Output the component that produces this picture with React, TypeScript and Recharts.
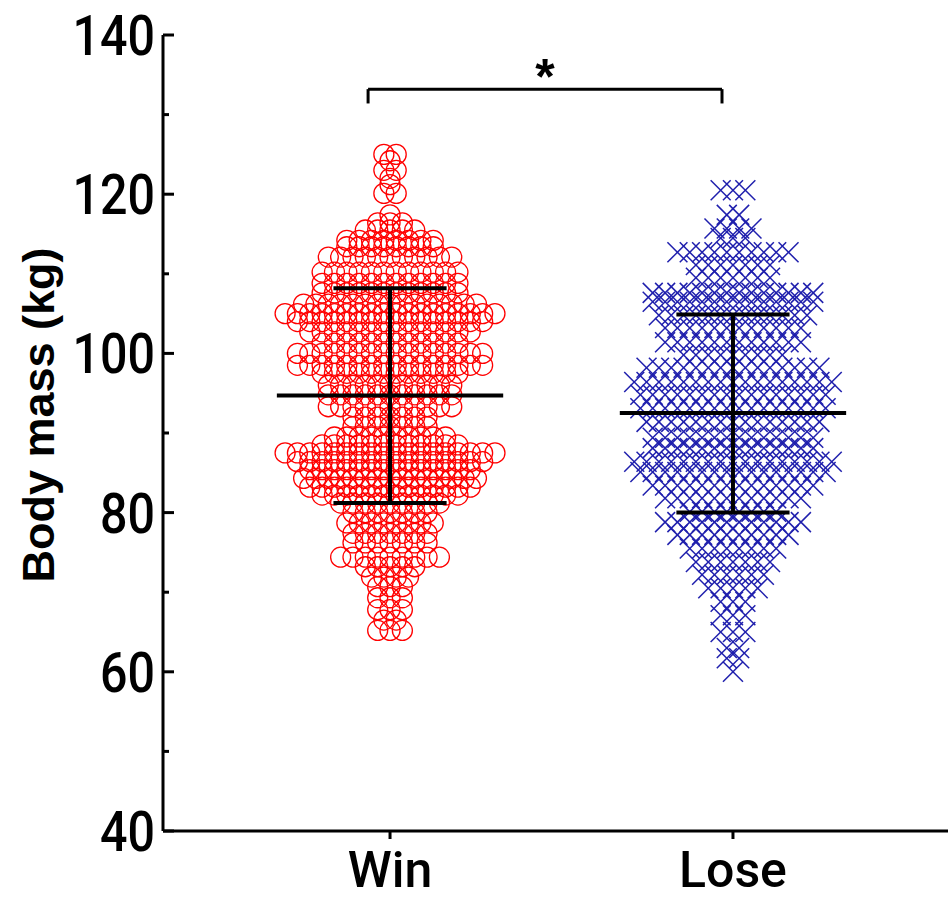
import React from 'react';
import {
  ScatterChart,
  Scatter,
  XAxis,
  YAxis,
  ReferenceLine,
  ReferenceDot,
} from 'recharts';

const groups = ['Win', 'Lose'];

// rows of the dot plot: body mass (kg) and how many athletes sit on that row
const winLevels = [
  125, 124.2, 123, 122, 121.2, 120.1, 117.4, 116.4, 115.5, 114.2, 113.4, 112.1,
  110.2, 108.8, 107.6, 106.2, 105, 104, 102.7, 101.3, 100, 98.5, 97.5, 96, 94.8,
  93.3, 92, 90.8, 89.5, 88.5, 87.5, 86.4, 85.4, 84.3, 83.2, 82.2, 81.2, 80, 78.7,
  77.4, 76.2, 74.4, 73.2, 71.9, 70.7, 69.3, 67.8, 66.5, 65.2,
];
const winCounts = [
  2, 1, 2, 1, 1, 2, 1, 3, 5, 8, 8, 11,
  12, 12, 12, 15, 18, 16, 14, 12, 16, 16, 12, 11, 11,
  11, 7, 7, 10, 12, 18, 16, 14, 15, 14, 12, 9, 7, 8,
  7, 7, 9, 5, 4, 3, 3, 3, 2, 3,
];
const loseLevels = [
  120.5, 117.4, 115.7, 114.5, 112.7, 111.1, 109.5, 107.6, 106.5, 104.8, 103.2,
  101.4, 99.8, 98.2, 96.4, 94.8, 93.1, 91.4, 89.4, 88.1, 86.4, 85.1, 83.4, 81.8,
  80.1, 78.8, 77.2, 75.5, 73.8, 72.2, 70.5, 68.8, 67.1, 65, 63, 61.7, 60,
];
const loseCounts = [
  3, 2, 4, 3, 10, 7, 7, 14, 14, 13, 12,
  12, 9, 15, 17, 16, 16, 15, 14, 14, 17, 16, 14, 12,
  8, 12, 10, 8, 7, 6, 5, 3, 3, 3, 2, 2, 1,
];

const means = [94.7, 92.5];
const sdHigh = [108.2, 104.9];
const sdLow = [81.2, 80.0];

const yTicks = [40, 50, 60, 70, 80, 90, 100, 110, 120, 130, 140];
const bracketTop = 133.2;
const bracketFoot = 131.4;
const bracketEnds = [0.936, 1.968];

const STEP = 0.036; // horizontal gap between neighbours on a row (x units)
const MEAN_HALF = 0.33;
const CAP_HALF = 0.165;

const spread = (levels: number[], counts: number[], center: number) =>
  levels.flatMap((v, i) => {
    const n = counts[i];
    return Array.from({ length: n }, (_, k) => ({
      x: center + (k - (n - 1) / 2) * STEP,
      y: v,
    }));
  });

const winData = spread(winLevels, winCounts, 1);
const loseData = spread(loseLevels, loseCounts, 2);

// mean line, SD whisker and its two caps for each group (drawn above the dots)
const barSegments = groups.flatMap((_, i) => {
  const c = i + 1;
  return [
    [{ x: c - MEAN_HALF, y: means[i] }, { x: c + MEAN_HALF, y: means[i] }],
    [{ x: c, y: sdLow[i] }, { x: c, y: sdHigh[i] }],
    [{ x: c - CAP_HALF, y: sdHigh[i] }, { x: c + CAP_HALF, y: sdHigh[i] }],
    [{ x: c - CAP_HALF, y: sdLow[i] }, { x: c + CAP_HALF, y: sdLow[i] }],
  ];
});

const tickFont = 'Roboto, "Noto Sans", sans-serif';
const labelFont = '"Liberation Sans", Arial, sans-serif';

const YTick = ({ x, y, payload }: any) => {
  const major = payload.value % 20 === 0;
  const txt = String(payload.value);
  return (
    <g>
      <line x1={x} x2={x + (major ? 11 : 6)} y1={y} y2={y} stroke="#000" strokeWidth={3} />
      {major && (
        <text
          x={x - 8}
          y={y}
          dy={20}
          textAnchor="end"
          fontSize={56}
          fontWeight={500}
          fontFamily={tickFont}
          textLength={txt.length * 27.5}
          lengthAdjust="spacingAndGlyphs"
          fill="#000"
        >
          {txt}
        </text>
      )}
    </g>
  );
};

const XTick = ({ x, y, payload }: any) => (
  <text x={x} y={y} dy={46} textAnchor="middle" fontSize={50} fontWeight={500} fontFamily={tickFont} fill="#000">
    {groups[payload.value - 1]}
  </text>
);

const YLabel = ({ viewBox }: any) => {
  const cx = 38;
  const cy = viewBox.y + viewBox.height / 2 - 18;
  return (
    <text
      x={cx}
      y={cy}
      transform={`rotate(-90 ${cx} ${cy})`}
      textAnchor="middle"
      dominantBaseline="central"
      fontSize={45}
      fontWeight="bold"
      fontFamily={labelFont}
      fill="#000"
    >
      Body mass (kg)
    </text>
  );
};

const Ring = ({ cx, cy }: any) => (
  <circle cx={cx} cy={cy} r={10} fill="none" stroke="#ff0000" strokeWidth={1.3} />
);

const Cross = ({ cx, cy }: any) => (
  <g stroke="#1f1fad" strokeWidth={1.5}>
    <line x1={cx - 10} y1={cy - 10} x2={cx + 10} y2={cy + 10} />
    <line x1={cx - 10} y1={cy + 10} x2={cx + 10} y2={cy - 10} />
  </g>
);

const NoDot = () => <g />;

const Star = ({ cx, cy }: any) => (
  <text x={cx} y={cy} dy={5} textAnchor="middle" fontSize={50} fontWeight="bold" fontFamily={labelFont} fill="#000">
    *
  </text>
);

const axis = { stroke: '#000', strokeWidth: 3 };

export default function App() {
  return (
    <div style={{ position: 'absolute', left: 0, top: 0 }}>
      <ScatterChart width={951} height={898} margin={{ top: 35, right: 3, bottom: 0, left: 0 }}>
        <XAxis
          type="number"
          dataKey="x"
          domain={[0.338, 2.627]}
          ticks={[1, 2]}
          allowDataOverflow
          height={67}
          axisLine={axis}
          tickLine={axis}
          tickSize={8}
          tick={<XTick />}
        />
        <YAxis
          type="number"
          dataKey="y"
          domain={[40, 140]}
          ticks={yTicks}
          interval={0}
          width={163}
          axisLine={axis}
          tickLine={false}
          tickSize={0}
          tickMargin={0}
          tick={<YTick />}
          label={{ content: <YLabel /> }}
        />
        <Scatter data={winData} shape={<Ring />} isAnimationActive={false} />
        <Scatter data={loseData} shape={<Cross />} isAnimationActive={false} />
        {barSegments.map((seg, i) => (
          <Scatter
            key={i}
            data={seg}
            shape={<NoDot />}
            line={{ stroke: '#000', strokeWidth: 4 }}
            isAnimationActive={false}
          />
        ))}
        <ReferenceLine segment={[{ x: bracketEnds[0], y: bracketFoot }, { x: bracketEnds[0], y: bracketTop }]} {...axis} />
        <ReferenceLine segment={[{ x: bracketEnds[0], y: bracketTop }, { x: bracketEnds[1], y: bracketTop }]} {...axis} />
        <ReferenceLine segment={[{ x: bracketEnds[1], y: bracketTop }, { x: bracketEnds[1], y: bracketFoot }]} {...axis} />
        <ReferenceDot x={(bracketEnds[0] + bracketEnds[1]) / 2} y={bracketTop} r={0} shape={<Star />} />
      </ScatterChart>
    </div>
  );
}
